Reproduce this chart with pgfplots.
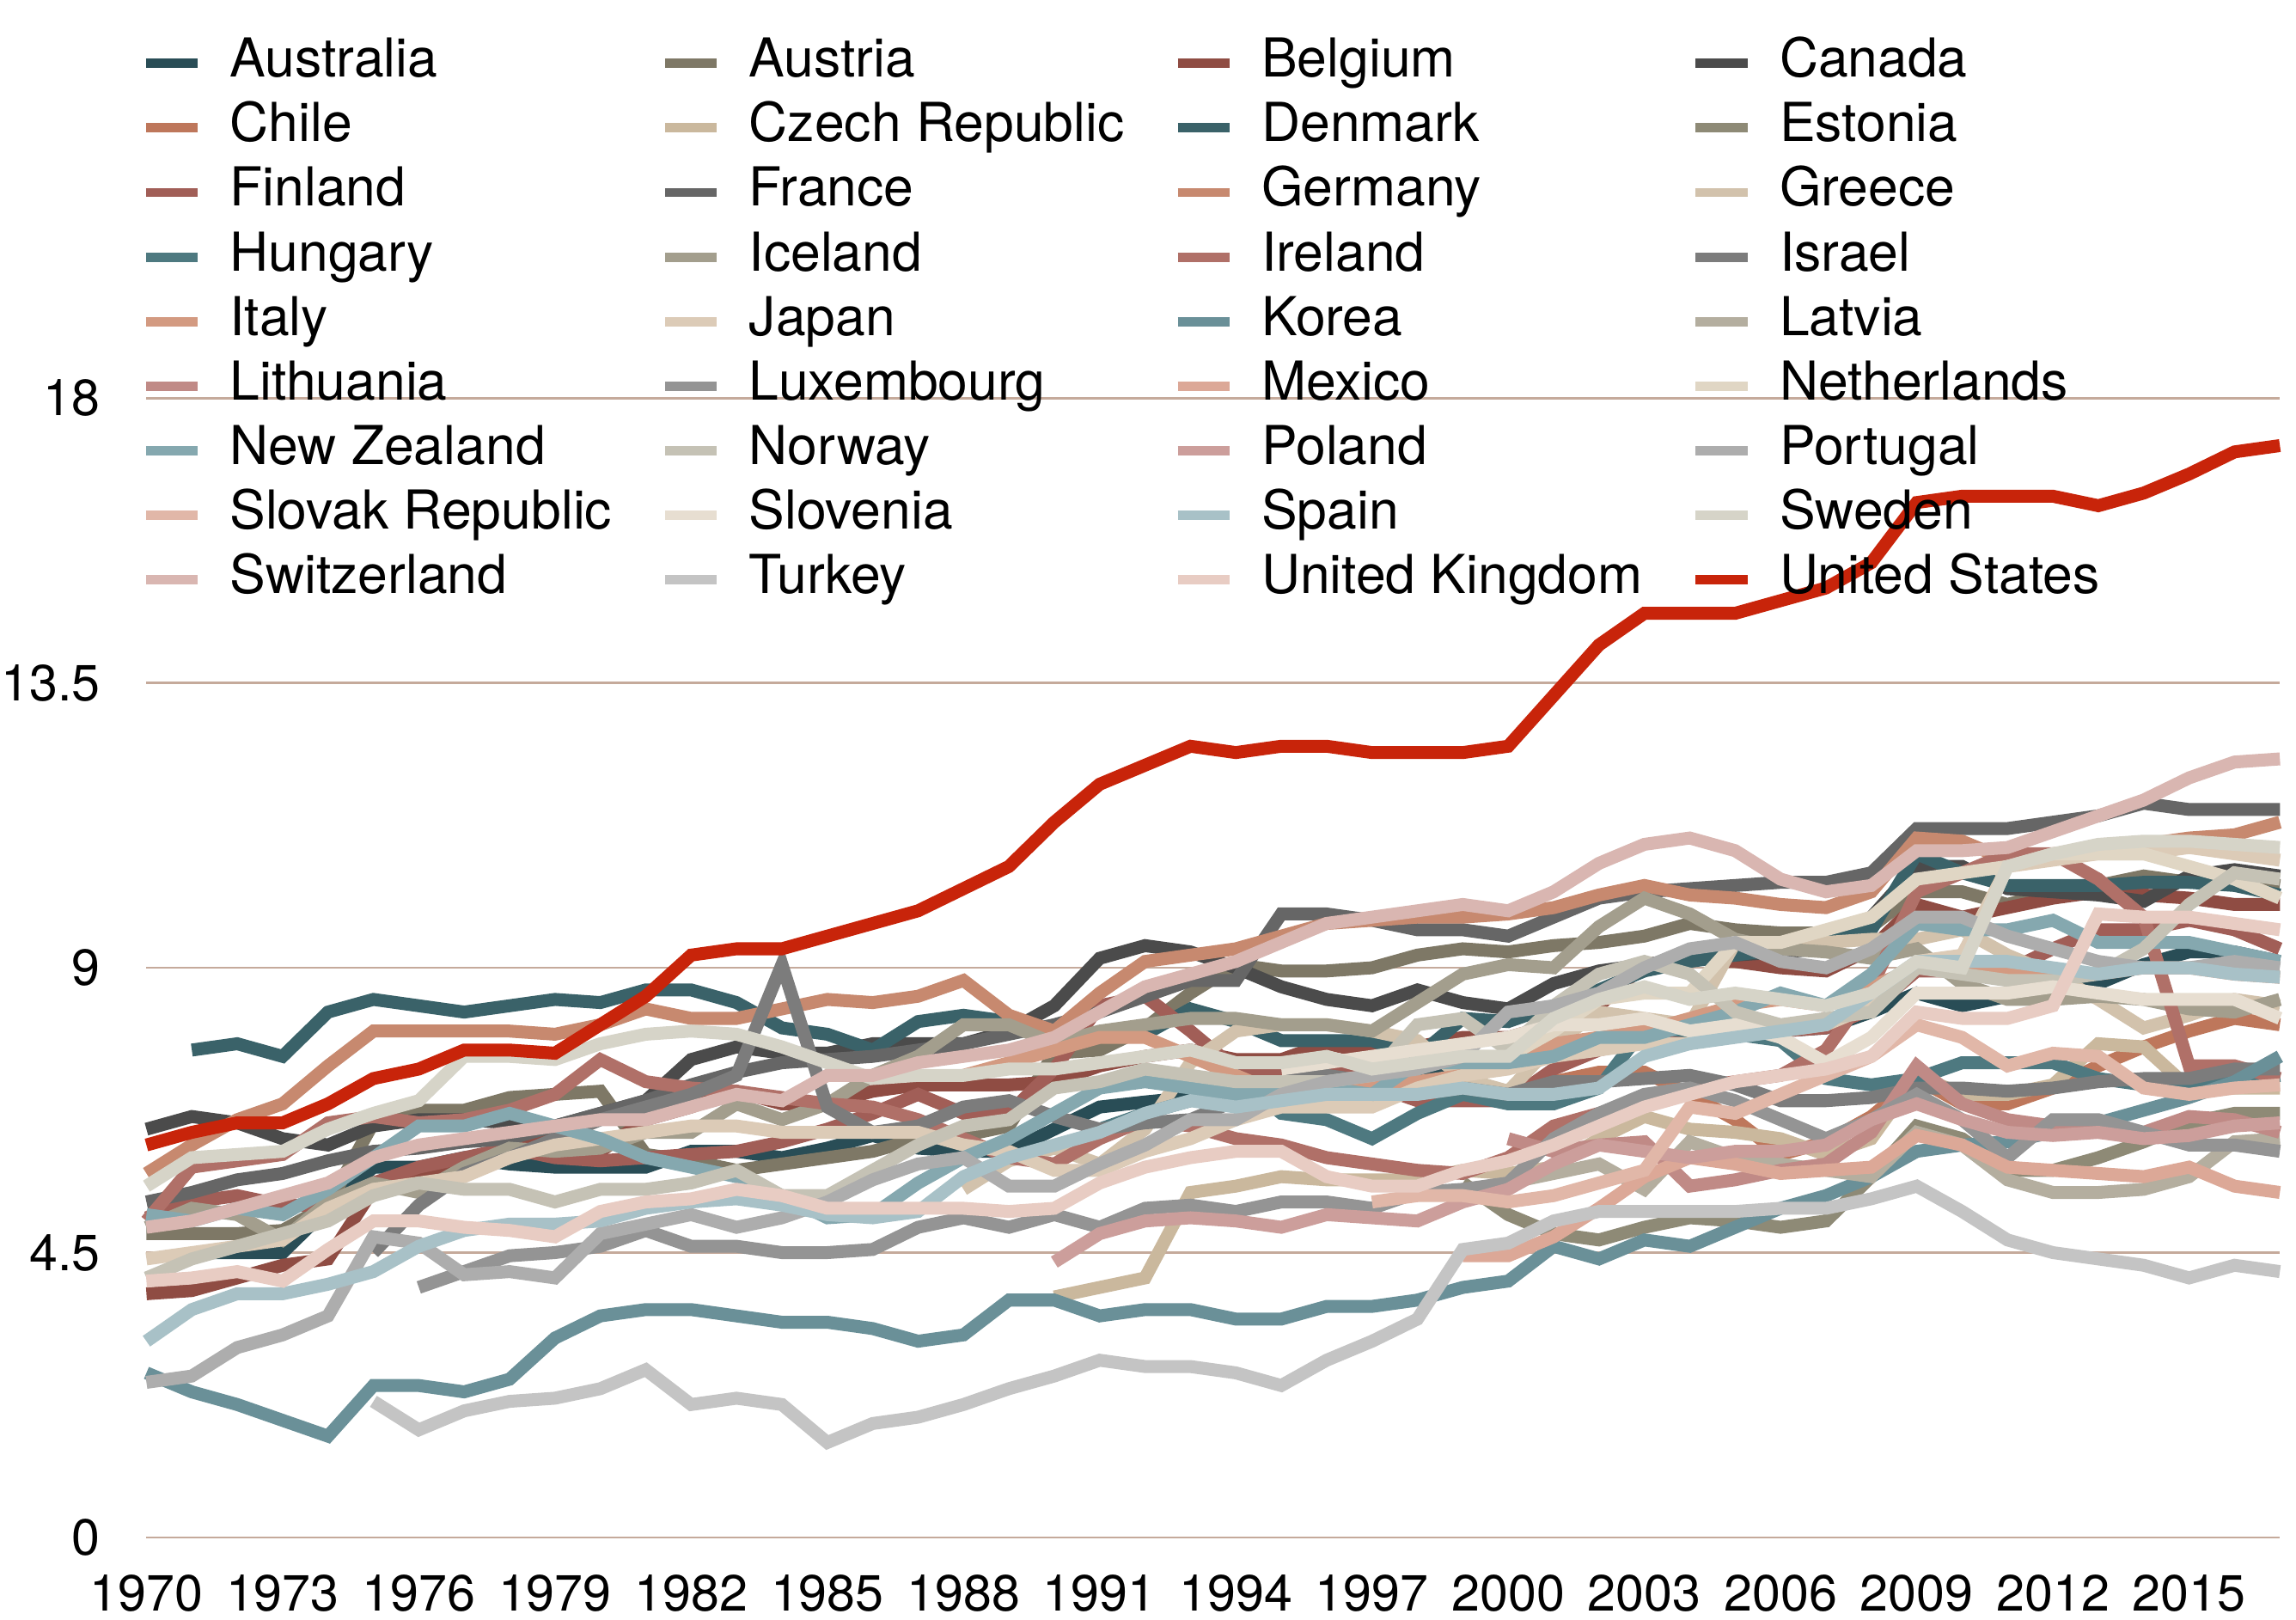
\documentclass[border=0pt]{standalone}
\usepackage{pgfplots}
\pgfplotsset{compat=1.18}
\usepackage{fontspec}
\setmainfont{TeX Gyre Heros}
\definecolor{gridc}{HTML}{C5AA9B}
\definecolor{cAUS}{HTML}{294D56}
\definecolor{cAUT}{HTML}{7E7866}
\definecolor{cBEL}{HTML}{8F4C43}
\definecolor{cCAN}{HTML}{4B4B4B}
\definecolor{cCHL}{HTML}{BE775B}
\definecolor{cCZE}{HTML}{CAB89D}
\definecolor{cDNK}{HTML}{3A6269}
\definecolor{cEST}{HTML}{8E8A76}
\definecolor{cFIN}{HTML}{A15E57}
\definecolor{cFRA}{HTML}{666666}
\definecolor{cDEU}{HTML}{C7896F}
\definecolor{cGRC}{HTML}{D2C2AC}
\definecolor{cHUN}{HTML}{4E7980}
\definecolor{cISL}{HTML}{A39E8D}
\definecolor{cIRL}{HTML}{B07068}
\definecolor{cISR}{HTML}{7C7C7C}
\definecolor{cITA}{HTML}{D39A81}
\definecolor{cJPN}{HTML}{DCCBB7}
\definecolor{cKOR}{HTML}{6A9098}
\definecolor{cLVA}{HTML}{B4AE9F}
\definecolor{cLTU}{HTML}{C08A86}
\definecolor{cLUX}{HTML}{949494}
\definecolor{cMEX}{HTML}{DCA897}
\definecolor{cNLD}{HTML}{E0D6C4}
\definecolor{cNZL}{HTML}{85A8AF}
\definecolor{cNOR}{HTML}{C5C2B5}
\definecolor{cPOL}{HTML}{CC9E9B}
\definecolor{cPRT}{HTML}{ADADAD}
\definecolor{cSVK}{HTML}{E1B7A8}
\definecolor{cSVN}{HTML}{E7DED1}
\definecolor{cESP}{HTML}{A8C1C7}
\definecolor{cSWE}{HTML}{D6D4C8}
\definecolor{cCHE}{HTML}{D9B6B1}
\definecolor{cTUR}{HTML}{C4C4C4}
\definecolor{cGBR}{HTML}{E8CCC3}
\definecolor{cUSA}{HTML}{C8240A}
\begin{document}
\begin{tikzpicture}
\begin{axis}[
  width=18.584cm, height=9.923cm, scale only axis,
  xmin=1970, xmax=2017, ymin=0, ymax=18,
  clip=false,
  axis line style={draw=none},
  major tick length=0pt,
  xtick={1970,1973,1976,1979,1982,1985,1988,1991,1994,1997,2000,2003,2006,2009,2012,2015},
  xticklabels={1970,1973,1976,1979,1982,1985,1988,1991,1994,1997,2000,2003,2006,2009,2012,2015},
  ytick={0,4.5,9,13.5,18},
  yticklabels={0,4.5,9,13.5,18},
  ymajorgrids,
  grid style={draw=gridc, line width=0.6pt},
  xticklabel style={anchor=north, inner sep=0pt, yshift=-0.32cm},
  yticklabel style={anchor=east, inner sep=0pt, xshift=-0.395cm},
  tick label style={font=\fontsize{12.6}{15}\selectfont},
  every axis plot/.append style={line width=3.2pt, no markers},
  legend columns=4,
  legend cell align=left,
  legend style={at={(axis cs:1969.87,23.69)}, anchor=north west, draw=none, fill=none, inner sep=0pt,
    font=\fontsize{13.3}{16}\selectfont, row sep=3.8pt,
    nodes={inner sep=0pt, text height=9.5pt, text depth=2.7pt},
    /tikz/every odd column/.append style={column sep=0.24cm},
    /tikz/every even column/.append style={column sep=0.425cm}},
  legend image code/.code={\draw[#1, line width=2.3pt] (0cm,0cm) -- (0.45cm,0cm);},
]
\path (axis cs:1966.774,24.29) rectangle (axis cs:2017.355,-1.296);

\addplot[cAUS] coordinates {(1971,4.5)(1972,4.5)(1973,4.5)(1974,5.2)(1975,5.85)(1976,5.85)(1977,6.0)(1978,5.9)(1979,5.85)(1980,5.85)(1981,5.85)(1982,6.1)(1983,6.1)(1984,6.0)(1985,6.15)(1986,6.35)(1987,6.15)(1988,6.1)(1989,6.1)(1990,6.45)(1991,6.8)(1992,6.88)(1993,6.95)(1994,6.95)(1995,6.95)(1996,7.1)(1997,7.15)(1998,7.25)(1999,7.35)(2000,7.65)(2001,7.7)(2002,7.9)(2003,7.9)(2004,8.05)(2005,8.0)(2006,8.0)(2007,8.05)(2008,8.3)(2009,8.6)(2010,8.4)(2011,8.55)(2012,8.65)(2013,8.75)(2014,9.05)(2015,9.25)(2016,9.25)(2017,9.1)};
\addlegendentry{Australia}
\addplot[cAUT] coordinates {(1970,4.8)(1971,4.8)(1972,4.8)(1973,4.85)(1974,5.25)(1975,6.55)(1976,6.75)(1977,6.75)(1978,6.95)(1979,7.0)(1980,7.05)(1981,6.05)(1982,5.95)(1983,5.8)(1984,5.9)(1985,6.0)(1986,6.1)(1987,6.3)(1988,6.35)(1989,6.5)(1990,7.65)(1991,7.7)(1992,8.05)(1993,8.6)(1994,9.05)(1995,8.95)(1996,8.95)(1997,9.0)(1998,9.2)(1999,9.3)(2000,9.25)(2001,9.35)(2002,9.4)(2003,9.5)(2004,9.7)(2005,9.6)(2006,9.55)(2007,9.55)(2008,9.65)(2009,10.2)(2010,10.2)(2011,10.0)(2012,10.2)(2013,10.3)(2014,10.45)(2015,10.35)(2016,10.4)(2017,10.3)};
\addlegendentry{Austria}
\addplot[cBEL] coordinates {(1970,3.85)(1971,3.9)(1972,4.1)(1973,4.3)(1974,4.4)(1975,5.5)(1976,5.65)(1977,5.8)(1978,6.2)(1979,6.4)(1980,6.1)(1981,6.6)(1982,6.8)(1983,7.05)(1984,6.85)(1985,6.85)(1986,7.05)(1987,7.15)(1988,7.15)(1989,7.15)(1990,7.2)(1991,7.45)(1992,7.6)(1993,7.7)(1994,7.55)(1995,7.55)(1996,7.8)(1997,7.65)(1998,7.75)(1999,7.9)(2000,7.9)(2001,8.1)(2002,8.4)(2003,9.05)(2004,9.15)(2005,9.1)(2006,9.0)(2007,8.95)(2008,9.3)(2009,10.0)(2010,9.8)(2011,9.95)(2012,10.1)(2013,10.2)(2014,10.15)(2015,10.1)(2016,10.0)(2017,10.0)};
\addlegendentry{Belgium}
\addplot[cCAN] coordinates {(1970,6.45)(1971,6.65)(1972,6.55)(1973,6.3)(1974,6.2)(1975,6.5)(1976,6.6)(1977,6.6)(1978,6.55)(1979,6.5)(1980,6.7)(1981,6.9)(1982,7.55)(1983,7.75)(1984,7.65)(1985,7.65)(1986,7.8)(1987,7.8)(1988,7.8)(1989,8.0)(1990,8.4)(1991,9.15)(1992,9.35)(1993,9.25)(1994,9.0)(1995,8.7)(1996,8.5)(1997,8.4)(1998,8.65)(1999,8.45)(2000,8.35)(2001,8.75)(2002,8.95)(2003,9.05)(2004,9.15)(2005,9.2)(2006,9.25)(2007,9.3)(2008,9.8)(2009,10.6)(2010,10.6)(2011,10.25)(2012,10.2)(2013,10.15)(2014,10.05)(2015,10.45)(2016,10.55)(2017,10.45)};
\addlegendentry{Canada}
\addplot[cCHL] coordinates {(2000,7.0)(2001,7.2)(2002,7.35)(2003,7.35)(2004,7.0)(2005,6.6)(2006,6.05)(2007,6.25)(2008,6.65)(2009,7.25)(2010,6.85)(2011,6.85)(2012,7.1)(2013,7.45)(2014,7.75)(2015,8.0)(2016,8.2)(2017,8.1)};
\addlegendentry{Chile}
\addplot[cCZE] coordinates {(1990,3.8)(1991,3.95)(1992,4.1)(1993,5.45)(1994,5.55)(1995,5.7)(1996,5.65)(1997,5.65)(1998,5.65)(1999,5.8)(2000,5.75)(2001,5.85)(2002,6.3)(2003,6.65)(2004,6.45)(2005,6.4)(2006,6.3)(2007,6.05)(2008,6.3)(2009,7.3)(2010,7.0)(2011,7.0)(2012,7.15)(2013,7.8)(2014,7.75)(2015,7.1)(2016,7.1)(2017,7.1)};
\addlegendentry{Czech Republic}
\addplot[cDNK] coordinates {(1971,7.7)(1972,7.8)(1973,7.6)(1974,8.3)(1975,8.5)(1976,8.4)(1977,8.3)(1978,8.4)(1979,8.5)(1980,8.45)(1981,8.65)(1982,8.65)(1983,8.45)(1984,8.05)(1985,7.95)(1986,7.7)(1987,8.15)(1988,8.25)(1989,8.15)(1990,8.0)(1991,7.95)(1992,7.95)(1993,8.35)(1994,8.15)(1995,7.85)(1996,7.85)(1997,7.85)(1998,7.6)(1999,8.2)(2000,8.15)(2001,8.4)(2002,8.65)(2003,8.95)(2004,9.1)(2005,9.2)(2006,9.3)(2007,9.45)(2008,9.6)(2009,10.8)(2010,10.5)(2011,10.3)(2012,10.3)(2013,10.3)(2014,10.35)(2015,10.35)(2016,10.3)(2017,10.15)};
\addlegendentry{Denmark}
\addplot[cEST] coordinates {(1999,5.6)(2000,5.1)(2001,4.8)(2002,4.7)(2003,4.9)(2004,5.05)(2005,5.0)(2006,4.9)(2007,5.0)(2008,5.7)(2009,6.5)(2010,6.3)(2011,5.8)(2012,5.8)(2013,6.0)(2014,6.25)(2015,6.55)(2016,6.7)(2017,6.7)};
\addlegendentry{Estonia}
\addplot[cFIN] coordinates {(1970,5.05)(1971,5.3)(1972,5.4)(1973,5.25)(1974,5.25)(1975,5.6)(1976,5.85)(1977,6.0)(1978,6.15)(1979,6.0)(1980,5.95)(1981,6.0)(1982,6.05)(1983,6.1)(1984,6.25)(1985,6.45)(1986,6.7)(1987,7.0)(1988,6.7)(1989,6.7)(1990,7.4)(1991,8.4)(1992,8.55)(1993,8.0)(1994,7.4)(1995,7.4)(1996,7.5)(1997,7.15)(1998,6.9)(1999,6.9)(2000,6.9)(2001,7.4)(2002,7.7)(2003,7.85)(2004,7.95)(2005,8.05)(2006,8.0)(2007,8.05)(2008,8.35)(2009,8.95)(2010,8.95)(2011,8.95)(2012,9.3)(2013,9.6)(2014,9.6)(2015,9.75)(2016,9.6)(2017,9.3)};
\addlegendentry{Finland}
\addplot[cFRA] coordinates {(1970,5.3)(1971,5.45)(1972,5.65)(1973,5.75)(1974,5.95)(1975,6.1)(1976,6.15)(1977,6.25)(1978,6.3)(1979,6.5)(1980,6.7)(1981,6.9)(1982,7.15)(1983,7.35)(1984,7.5)(1985,7.55)(1986,7.6)(1987,7.7)(1988,7.8)(1989,7.95)(1990,8.1)(1991,8.3)(1992,8.55)(1993,8.8)(1994,8.8)(1995,9.85)(1996,9.85)(1997,9.75)(1998,9.6)(1999,9.6)(2000,9.5)(2001,9.8)(2002,10.1)(2003,10.2)(2004,10.25)(2005,10.3)(2006,10.35)(2007,10.35)(2008,10.5)(2009,11.2)(2010,11.2)(2011,11.2)(2012,11.3)(2013,11.4)(2014,11.6)(2015,11.5)(2016,11.5)(2017,11.5)};
\addlegendentry{France}
\addplot[cDEU] coordinates {(1970,5.75)(1971,6.2)(1972,6.6)(1973,6.85)(1974,7.45)(1975,8.0)(1976,8.0)(1977,8.0)(1978,8.0)(1979,7.95)(1980,8.1)(1981,8.35)(1982,8.2)(1983,8.2)(1984,8.35)(1985,8.5)(1986,8.45)(1987,8.55)(1988,8.8)(1989,8.25)(1990,8.0)(1991,8.6)(1992,9.1)(1993,9.2)(1994,9.3)(1995,9.5)(1996,9.7)(1997,9.75)(1998,9.8)(1999,9.8)(2000,9.85)(2001,9.95)(2002,10.15)(2003,10.3)(2004,10.15)(2005,10.1)(2006,10.0)(2007,9.95)(2008,10.2)(2009,11.05)(2010,11.0)(2011,10.7)(2012,10.8)(2013,10.9)(2014,10.95)(2015,11.05)(2016,11.1)(2017,11.3)};
\addlegendentry{Germany}
\addplot[cGRC] coordinates {(1988,5.5)(1989,5.95)(1990,6.15)(1991,5.9)(1992,6.45)(1993,7.5)(1994,8.0)(1995,8.1)(1996,8.1)(1997,8.0)(1998,7.85)(1999,7.25)(2000,7.05)(2001,7.8)(2002,8.3)(2003,8.2)(2004,8.1)(2005,9.4)(2006,9.4)(2007,9.4)(2008,9.45)(2009,9.45)(2010,9.6)(2011,9.2)(2012,8.9)(2013,8.5)(2014,8.05)(2015,8.25)(2016,8.5)(2017,8.4)};
\addlegendentry{Greece}
\addplot[cHUN] coordinates {(1991,6.45)(1992,6.7)(1993,6.9)(1994,7.3)(1995,6.7)(1996,6.6)(1997,6.3)(1998,6.7)(1999,7.0)(2000,6.85)(2001,6.85)(2002,7.1)(2003,8.05)(2004,8.0)(2005,7.95)(2006,7.85)(2007,7.25)(2008,7.15)(2009,7.25)(2010,7.5)(2011,7.5)(2012,7.5)(2013,7.25)(2014,7.15)(2015,7.15)(2016,7.2)(2017,7.3)};
\addlegendentry{Hungary}
\addplot[cISL] coordinates {(1970,4.9)(1971,5.2)(1972,5.1)(1973,4.7)(1974,5.3)(1975,5.6)(1976,5.45)(1977,5.85)(1978,6.15)(1979,6.1)(1980,6.15)(1981,6.4)(1982,6.4)(1983,6.85)(1984,6.6)(1985,6.85)(1986,7.3)(1987,7.6)(1988,8.1)(1989,8.1)(1990,7.8)(1991,8.0)(1992,8.1)(1993,8.2)(1994,8.2)(1995,8.1)(1996,8.1)(1997,8.0)(1998,8.45)(1999,8.9)(2000,9.05)(2001,9.0)(2002,9.65)(2003,10.1)(2004,9.85)(2005,9.45)(2006,9.3)(2007,9.25)(2008,9.15)(2009,9.3)(2010,8.75)(2011,8.5)(2012,8.5)(2013,8.55)(2014,8.5)(2015,8.35)(2016,8.3)(2017,8.5)};
\addlegendentry{Iceland}
\addplot[cIRL] coordinates {(1970,5.0)(1971,5.85)(1972,5.95)(1973,6.05)(1974,6.55)(1975,6.65)(1976,6.55)(1977,6.6)(1978,6.75)(1979,7.0)(1980,7.55)(1981,7.2)(1982,7.1)(1983,7.05)(1984,6.95)(1985,6.85)(1986,6.8)(1987,6.6)(1988,6.3)(1989,6.0)(1990,5.9)(1991,6.3)(1992,6.6)(1993,6.5)(1994,6.3)(1995,6.2)(1996,6.0)(1997,5.9)(1998,5.8)(1999,5.75)(2000,6.0)(2001,6.5)(2002,6.7)(2003,6.9)(2004,7.1)(2005,7.2)(2006,7.3)(2007,7.7)(2008,8.7)(2009,10.2)(2010,10.5)(2011,10.8)(2012,10.8)(2013,10.4)(2014,9.8)(2015,7.45)(2016,7.45)(2017,7.25)};
\addlegendentry{Ireland}
\addplot[cISR] coordinates {(1975,4.5)(1976,5.25)(1977,5.75)(1978,6.0)(1979,6.3)(1980,6.6)(1981,6.8)(1982,7.0)(1983,7.3)(1984,9.05)(1985,6.8)(1986,6.4)(1987,6.5)(1988,6.8)(1989,6.9)(1990,6.65)(1991,6.45)(1992,6.55)(1993,6.6)(1994,6.9)(1995,7.2)(1996,7.3)(1997,7.2)(1998,7.0)(1999,7.1)(2000,7.0)(2001,7.2)(2002,7.2)(2003,7.25)(2004,7.3)(2005,7.15)(2006,6.9)(2007,6.9)(2008,6.95)(2009,7.1)(2010,7.1)(2011,7.05)(2012,7.1)(2013,7.2)(2014,7.25)(2015,7.25)(2016,7.4)(2017,7.4)};
\addlegendentry{Israel}
\addplot[cITA] coordinates {(1988,7.3)(1989,7.5)(1990,7.7)(1991,7.9)(1992,7.9)(1993,7.6)(1994,7.3)(1995,7.0)(1996,7.0)(1997,7.2)(1998,7.2)(1999,7.3)(2000,7.6)(2001,7.8)(2002,7.9)(2003,8.0)(2004,8.2)(2005,8.4)(2006,8.5)(2007,8.4)(2008,8.7)(2009,9.0)(2010,9.0)(2011,8.9)(2012,8.9)(2013,8.9)(2014,9.0)(2015,9.0)(2016,8.9)(2017,8.85)};
\addlegendentry{Italy}
\addplot[cJPN] coordinates {(1970,4.4)(1971,4.5)(1972,4.6)(1973,4.7)(1974,5.2)(1975,5.5)(1976,5.6)(1977,5.7)(1978,6.0)(1979,6.2)(1980,6.3)(1981,6.4)(1982,6.5)(1983,6.5)(1984,6.4)(1985,6.4)(1986,6.4)(1987,6.4)(1988,6.2)(1989,6.1)(1990,5.8)(1991,5.8)(1992,6.1)(1993,6.3)(1994,6.6)(1995,6.8)(1996,6.8)(1997,6.8)(1998,7.1)(1999,7.3)(2000,7.4)(2001,7.6)(2002,7.7)(2003,7.8)(2004,7.8)(2005,8.0)(2006,8.0)(2007,8.1)(2008,8.4)(2009,9.1)(2010,9.2)(2011,10.6)(2012,10.7)(2013,10.8)(2014,10.8)(2015,10.9)(2016,10.8)(2017,10.7)};
\addlegendentry{Japan}
\addplot[cKOR] coordinates {(1970,2.6)(1971,2.3)(1972,2.1)(1973,1.85)(1974,1.6)(1975,2.4)(1976,2.4)(1977,2.3)(1978,2.5)(1979,3.15)(1980,3.5)(1981,3.6)(1982,3.6)(1983,3.5)(1984,3.4)(1985,3.4)(1986,3.3)(1987,3.1)(1988,3.2)(1989,3.75)(1990,3.75)(1991,3.5)(1992,3.6)(1993,3.6)(1994,3.45)(1995,3.45)(1996,3.65)(1997,3.65)(1998,3.75)(1999,3.95)(2000,4.05)(2001,4.6)(2002,4.4)(2003,4.7)(2004,4.6)(2005,4.9)(2006,5.2)(2007,5.4)(2008,5.7)(2009,6.1)(2010,6.2)(2011,6.25)(2012,6.4)(2013,6.55)(2014,6.75)(2015,6.95)(2016,7.2)(2017,7.6)};
\addlegendentry{Korea}
\addplot[cLVA] coordinates {(2000,5.6)(2001,5.75)(2002,5.9)(2003,5.5)(2004,6.25)(2005,6.0)(2006,5.9)(2007,5.8)(2008,5.7)(2009,6.4)(2010,6.2)(2011,5.65)(2012,5.45)(2013,5.45)(2014,5.5)(2015,5.7)(2016,6.25)(2017,6.3)};
\addlegendentry{Latvia}
\addplot[cLTU] coordinates {(2000,6.3)(2001,6.1)(2002,6.2)(2003,6.25)(2004,5.55)(2005,5.65)(2006,5.8)(2007,5.9)(2008,6.4)(2009,7.45)(2010,6.85)(2011,6.6)(2012,6.5)(2013,6.4)(2014,6.4)(2015,6.65)(2016,6.6)(2017,6.4)};
\addlegendentry{Lithuania}
\addplot[cLUX] coordinates {(1976,3.95)(1977,4.2)(1978,4.45)(1979,4.5)(1980,4.6)(1981,4.85)(1982,4.6)(1983,4.6)(1984,4.5)(1985,4.5)(1986,4.55)(1987,4.9)(1988,5.05)(1989,4.9)(1990,5.1)(1991,4.9)(1992,5.2)(1993,5.25)(1994,5.15)(1995,5.3)(1996,5.3)(1997,5.2)(1998,5.45)(1999,5.5)(2000,5.6)(2001,6.3)(2002,6.7)(2003,7.0)(2004,7.1)(2005,6.9)(2006,6.6)(2007,6.3)(2008,6.6)(2009,7.0)(2010,6.6)(2011,6.0)(2012,6.6)(2013,6.6)(2014,6.4)(2015,6.2)(2016,6.2)(2017,6.1)};
\addlegendentry{Luxembourg}
\addplot[cMEX] coordinates {(1999,4.45)(2000,4.45)(2001,4.75)(2002,5.2)(2003,5.7)(2004,6.0)(2005,5.9)(2006,5.75)(2007,5.8)(2008,5.85)(2009,6.35)(2010,6.2)(2011,5.85)(2012,5.8)(2013,5.75)(2014,5.7)(2015,5.85)(2016,5.55)(2017,5.45)};
\addlegendentry{Mexico}
\addplot[cNLD] coordinates {(1998,7.6)(1999,7.6)(2000,7.6)(2001,8.0)(2002,8.5)(2003,8.6)(2004,8.6)(2005,9.4)(2006,9.4)(2007,9.6)(2008,9.8)(2009,10.4)(2010,10.5)(2011,10.6)(2012,10.8)(2013,10.8)(2014,10.8)(2015,10.6)(2016,10.4)(2017,10.1)};
\addlegendentry{Netherlands}
\addplot[cNZL] coordinates {(1970,5.1)(1971,5.0)(1972,5.2)(1973,5.1)(1974,5.5)(1975,6.0)(1976,6.5)(1977,6.5)(1978,6.7)(1979,6.5)(1980,6.3)(1981,6.0)(1982,5.85)(1983,5.7)(1984,5.4)(1985,5.05)(1986,5.1)(1987,5.6)(1988,6.0)(1989,6.3)(1990,6.7)(1991,7.1)(1992,7.2)(1993,7.1)(1994,7.0)(1995,7.0)(1996,7.1)(1997,7.0)(1998,7.5)(1999,7.5)(2000,7.5)(2001,7.6)(2002,7.9)(2003,7.9)(2004,8.1)(2005,8.3)(2006,8.6)(2007,8.4)(2008,8.9)(2009,9.7)(2010,9.6)(2011,9.6)(2012,9.75)(2013,9.4)(2014,9.4)(2015,9.4)(2016,9.25)(2017,9.1)};
\addlegendentry{New Zealand}
\addplot[cNOR] coordinates {(1970,4.1)(1971,4.4)(1972,4.6)(1973,4.8)(1974,5.0)(1975,5.4)(1976,5.6)(1977,5.5)(1978,5.5)(1979,5.3)(1980,5.5)(1981,5.5)(1982,5.6)(1983,5.8)(1984,5.4)(1985,5.4)(1986,5.8)(1987,6.2)(1988,6.5)(1989,6.6)(1990,7.1)(1991,7.2)(1992,7.4)(1993,7.3)(1994,7.2)(1995,7.2)(1996,7.2)(1997,7.3)(1998,8.1)(1999,8.2)(2000,7.7)(2001,8.4)(2002,8.9)(2003,9.1)(2004,8.9)(2005,8.3)(2006,8.1)(2007,8.2)(2008,8.3)(2009,9.0)(2010,8.9)(2011,8.8)(2012,8.8)(2013,8.9)(2014,9.3)(2015,10.0)(2016,10.5)(2017,10.4)};
\addlegendentry{Norway}
\addplot[cPOL] coordinates {(1990,4.35)(1991,4.8)(1992,5.0)(1993,5.05)(1994,5.0)(1995,4.9)(1996,5.1)(1997,5.05)(1998,5.0)(1999,5.3)(2000,5.5)(2001,5.9)(2002,6.2)(2003,6.1)(2004,6.0)(2005,6.1)(2006,6.1)(2007,6.2)(2008,6.6)(2009,6.85)(2010,6.6)(2011,6.4)(2012,6.35)(2013,6.4)(2014,6.3)(2015,6.35)(2016,6.5)(2017,6.55)};
\addlegendentry{Poland}
\addplot[cPRT] coordinates {(1970,2.45)(1971,2.55)(1972,3.0)(1973,3.2)(1974,3.5)(1975,4.75)(1976,4.65)(1977,4.15)(1978,4.2)(1979,4.1)(1980,4.8)(1981,4.95)(1982,5.1)(1983,4.9)(1984,5.05)(1985,5.3)(1986,5.65)(1987,5.9)(1988,6.0)(1989,5.55)(1990,5.55)(1991,5.9)(1992,6.2)(1993,6.6)(1994,6.6)(1995,7.0)(1996,7.2)(1997,7.3)(1998,7.4)(1999,7.6)(2000,8.3)(2001,8.4)(2002,8.6)(2003,9.0)(2004,9.3)(2005,9.4)(2006,9.1)(2007,9.0)(2008,9.3)(2009,9.8)(2010,9.8)(2011,9.5)(2012,9.3)(2013,9.1)(2014,9.0)(2015,9.0)(2016,9.1)(2017,9.0)};
\addlegendentry{Portugal}
\addplot[cSVK] coordinates {(1997,5.3)(1998,5.4)(1999,5.4)(2000,5.3)(2001,5.4)(2002,5.6)(2003,5.8)(2004,6.8)(2005,6.7)(2006,7.0)(2007,7.3)(2008,7.6)(2009,8.1)(2010,7.9)(2011,7.45)(2012,7.65)(2013,7.6)(2014,7.1)(2015,7.0)(2016,7.1)(2017,7.15)};
\addlegendentry{Slovak Republic}
\addplot[cSVN] coordinates {(1995,7.4)(1996,7.5)(1997,7.6)(1998,7.7)(1999,7.8)(2000,7.9)(2001,8.1)(2002,8.1)(2003,8.2)(2004,8.0)(2005,8.1)(2006,7.9)(2007,7.5)(2008,7.9)(2009,8.6)(2010,8.6)(2011,8.6)(2012,8.7)(2013,8.6)(2014,8.5)(2015,8.5)(2016,8.5)(2017,8.2)};
\addlegendentry{Slovenia}
\addplot[cESP] coordinates {(1970,3.1)(1971,3.6)(1972,3.85)(1973,3.85)(1974,4.0)(1975,4.2)(1976,4.6)(1977,4.85)(1978,4.95)(1979,4.95)(1980,5.0)(1981,5.2)(1982,5.3)(1983,5.35)(1984,5.25)(1985,5.1)(1986,5.05)(1987,5.15)(1988,5.7)(1989,6.0)(1990,6.2)(1991,6.4)(1992,6.7)(1993,6.9)(1994,6.8)(1995,6.9)(1996,7.0)(1997,7.0)(1998,7.0)(1999,7.1)(2000,7.0)(2001,7.0)(2002,7.1)(2003,7.6)(2004,7.8)(2005,7.9)(2006,8.0)(2007,8.1)(2008,8.6)(2009,9.1)(2010,9.1)(2011,9.1)(2012,9.0)(2013,8.9)(2014,9.0)(2015,9.0)(2016,8.9)(2017,8.85)};
\addlegendentry{Spain}
\addplot[cSWE] coordinates {(1970,5.55)(1971,6.0)(1972,6.05)(1973,6.1)(1974,6.45)(1975,6.7)(1976,6.9)(1977,7.6)(1978,7.6)(1979,7.55)(1980,7.8)(1981,7.95)(1982,8.0)(1983,7.95)(1984,7.75)(1985,7.5)(1986,7.25)(1987,7.3)(1988,7.3)(1989,7.4)(1990,7.4)(1991,7.5)(1992,7.6)(1993,7.7)(1994,7.5)(1995,7.5)(1996,7.6)(1997,7.4)(1998,7.5)(1999,7.6)(2000,7.6)(2001,8.2)(2002,8.5)(2003,8.7)(2004,8.5)(2005,8.6)(2006,8.5)(2007,8.4)(2008,8.6)(2009,9.1)(2010,9.0)(2011,10.6)(2012,10.8)(2013,10.95)(2014,11.0)(2015,11.0)(2016,10.95)(2017,10.9)};
\addlegendentry{Sweden}
\addplot[cCHE] coordinates {(1970,4.9)(1971,5.0)(1972,5.2)(1973,5.4)(1974,5.6)(1975,6.0)(1976,6.2)(1977,6.3)(1978,6.4)(1979,6.5)(1980,6.6)(1981,6.6)(1982,6.8)(1983,7.0)(1984,6.9)(1985,7.3)(1986,7.3)(1987,7.5)(1988,7.6)(1989,7.7)(1990,7.9)(1991,8.3)(1992,8.7)(1993,8.9)(1994,9.1)(1995,9.4)(1996,9.7)(1997,9.8)(1998,9.9)(1999,10.0)(2000,9.9)(2001,10.2)(2002,10.65)(2003,10.95)(2004,11.05)(2005,10.85)(2006,10.4)(2007,10.2)(2008,10.3)(2009,10.85)(2010,10.85)(2011,10.9)(2012,11.15)(2013,11.4)(2014,11.65)(2015,12.0)(2016,12.25)(2017,12.3)};
\addlegendentry{Switzerland}
\addplot[cTUR] coordinates {(1975,2.15)(1976,1.7)(1977,2.0)(1978,2.15)(1979,2.2)(1980,2.35)(1981,2.65)(1982,2.1)(1983,2.2)(1984,2.1)(1985,1.5)(1986,1.8)(1987,1.9)(1988,2.1)(1989,2.35)(1990,2.55)(1991,2.8)(1992,2.7)(1993,2.7)(1994,2.6)(1995,2.4)(1996,2.8)(1997,3.1)(1998,3.45)(1999,4.55)(2000,4.65)(2001,5.0)(2002,5.15)(2003,5.15)(2004,5.15)(2005,5.15)(2006,5.2)(2007,5.2)(2008,5.35)(2009,5.55)(2010,5.15)(2011,4.7)(2012,4.5)(2013,4.4)(2014,4.3)(2015,4.1)(2016,4.3)(2017,4.2)};
\addlegendentry{Turkey}
\addplot[cGBR] coordinates {(1970,4.05)(1971,4.1)(1972,4.2)(1973,4.05)(1974,4.55)(1975,5.0)(1976,5.0)(1977,4.9)(1978,4.85)(1979,4.75)(1980,5.15)(1981,5.3)(1982,5.35)(1983,5.5)(1984,5.4)(1985,5.2)(1986,5.2)(1987,5.2)(1988,5.2)(1989,5.15)(1990,5.2)(1991,5.6)(1992,5.85)(1993,6.0)(1994,6.1)(1995,6.1)(1996,5.7)(1997,5.55)(1998,5.55)(1999,5.8)(2000,5.95)(2001,6.2)(2002,6.5)(2003,6.8)(2004,7.0)(2005,7.2)(2006,7.3)(2007,7.4)(2008,7.6)(2009,8.3)(2010,8.2)(2011,8.2)(2012,8.4)(2013,9.85)(2014,9.8)(2015,9.8)(2016,9.7)(2017,9.6)};
\addlegendentry{United Kingdom}
\addplot[cUSA] coordinates {(1970,6.2)(1971,6.4)(1972,6.55)(1973,6.55)(1974,6.85)(1975,7.25)(1976,7.4)(1977,7.7)(1978,7.7)(1979,7.65)(1980,8.1)(1981,8.55)(1982,9.2)(1983,9.3)(1984,9.3)(1985,9.5)(1986,9.7)(1987,9.9)(1988,10.25)(1989,10.6)(1990,11.3)(1991,11.9)(1992,12.2)(1993,12.5)(1994,12.4)(1995,12.5)(1996,12.5)(1997,12.4)(1998,12.4)(1999,12.4)(2000,12.5)(2001,13.3)(2002,14.1)(2003,14.6)(2004,14.6)(2005,14.6)(2006,14.8)(2007,15.0)(2008,15.4)(2009,16.35)(2010,16.45)(2011,16.45)(2012,16.45)(2013,16.3)(2014,16.5)(2015,16.8)(2016,17.15)(2017,17.25)};
\addlegendentry{United States}
\end{axis}
\end{tikzpicture}
\end{document}
